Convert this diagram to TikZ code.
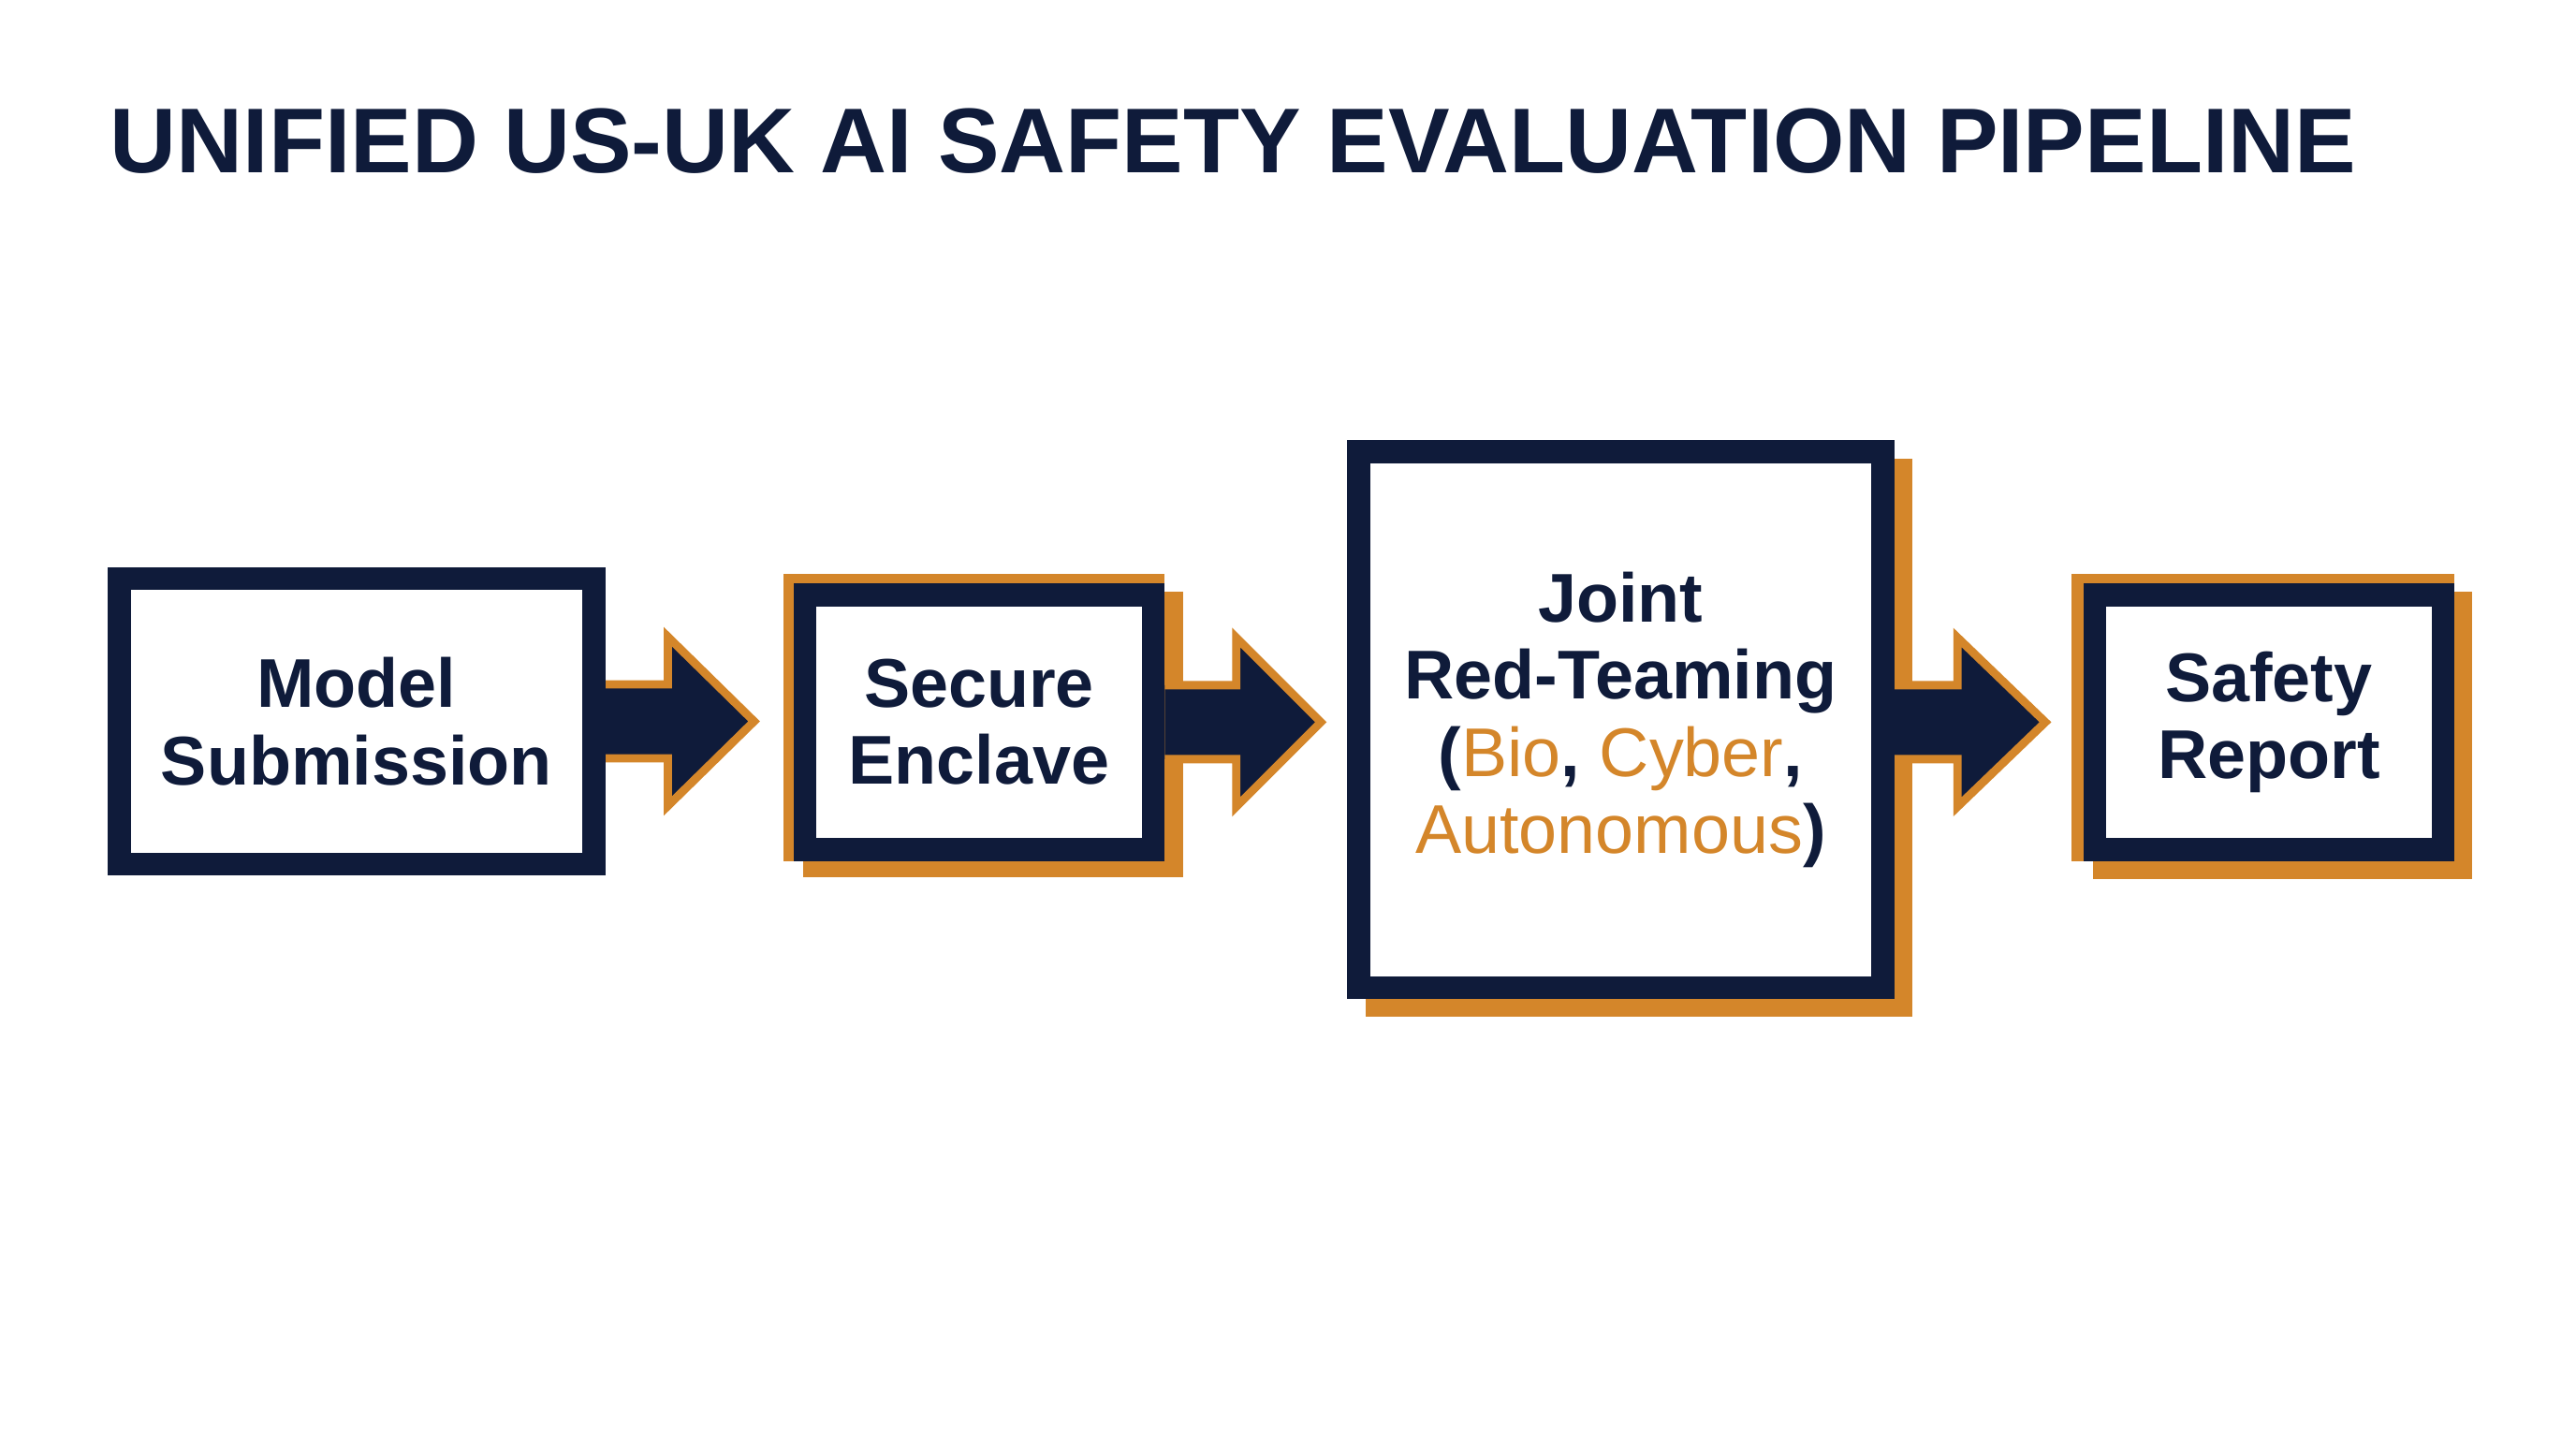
\documentclass[tikz,border=0pt]{standalone}
\usepackage{fontspec}
\setmainfont{Liberation Sans}
\usetikzlibrary{calc}
\definecolor{navy}{HTML}{0F1B3A}
\definecolor{gold}{HTML}{D4862A}
\begin{document}
\begin{tikzpicture}[x=1pt,y=-1pt,
  box/.style={draw=navy,line width=14pt,fill=white,inner sep=0pt,align=center,
    font=\fontsize{42}{47}\selectfont\bfseries,text=navy},
  shadow/.style={fill=gold},
  barrow/.style={draw=gold,line width=5pt,fill=navy,line join=miter,miter limit=10}]
\useasboundingbox (0,0) rectangle (1568,875);
\fill[white] (0,0) rectangle (1568,875);
\node[anchor=base west,text=navy,font=\fontsize{56}{60}\selectfont\bfseries,inner sep=0pt] (title) at (67,105) {UNIFIED US-UK AI SAFETY EVALUATION PIPELINE};
% shadows
\fill[shadow] (477,349) rectangle (709,524);
\fill[shadow] (489,360) rectangle (720,534);
\fill[shadow] (831,279) rectangle (1164,619);
\fill[shadow] (1261,349) rectangle (1494,524);
\fill[shadow] (1274,360) rectangle (1505,535);
% boxes (positions), drawn later
\path (217,439) node[box,minimum width=289pt,minimum height=174pt,draw=none,fill=none] (b1) {};
\path (596,439.5) node[box,minimum width=212pt,minimum height=155pt,draw=none,fill=none] (b2) {};
\path (986.5,438) node[box,minimum width=319pt,minimum height=326pt,draw=none,fill=none] (b3) {};
\path (1381,439.5) node[box,minimum width=212pt,minimum height=155pt,draw=none,fill=none] (b4) {};
% arrows
\draw[barrow] ($(b1.east)+(0,-22.5)$) -- ($(b2.west|-b1.east)+(-76.5,-22.5)$) -- ($(b2.west|-b1.east)+(-76.5,-51.5)$)
  -- ($(b2.west|-b1.east)+(-24,0)$) -- ($(b2.west|-b1.east)+(-76.5,51.5)$) -- ($(b2.west|-b1.east)+(-76.5,22.5)$) -- ($(b1.east)+(0,22.5)$);
\draw[barrow] ($(b2.east)+(0,-22.5)$) -- ($(b3.west|-b2.east)+(-67.5,-22.5)$) -- ($(b3.west|-b2.east)+(-67.5,-51.5)$)
  -- ($(b3.west|-b2.east)+(-16,0)$) -- ($(b3.west|-b2.east)+(-67.5,51.5)$) -- ($(b3.west|-b2.east)+(-67.5,22.5)$) -- ($(b2.east)+(0,22.5)$);
\draw[barrow] ($(b3.east|-b4.west)+(0,-22.5)$) -- ($(b4.west)+(-76.5,-22.5)$) -- ($(b4.west)+(-76.5,-51.5)$)
  -- ($(b4.west)+(-23,0)$) -- ($(b4.west)+(-76.5,51.5)$) -- ($(b4.west)+(-76.5,22.5)$) -- ($(b3.east|-b4.west)+(0,22.5)$);
% boxes
\node[box,minimum width=289pt,minimum height=174pt] at (b1) {Model\\Submission};
\node[box,minimum width=212pt,minimum height=155pt] at (b2) {Secure\\Enclave};
\node[box,minimum width=319pt,minimum height=326pt] at (b3) {Joint\\Red-Teaming\\(\textcolor{gold}{\mdseries Bio}, \textcolor{gold}{\mdseries Cyber},\\\textcolor{gold}{\mdseries Autonomous})};
\node[box,minimum width=212pt,minimum height=155pt] at (b4) {Safety\\Report};
\end{tikzpicture}
\end{document}
